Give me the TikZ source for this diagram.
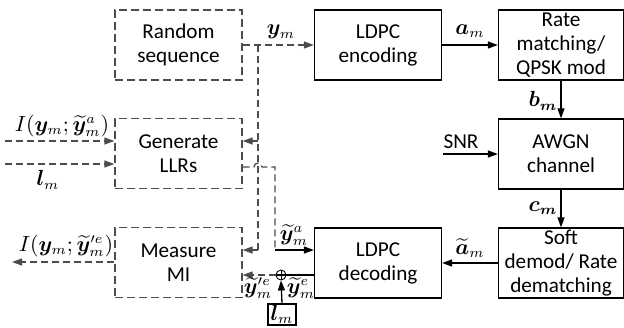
\documentclass[tikz,border=0pt]{standalone}
\usepackage{amsmath}
\usepackage{bm}
\usepackage{fontspec}
\setmainfont{Carlito}
\usetikzlibrary{arrows.meta}
\definecolor{dgray}{gray}{0.3}
% one unit = 0.5pt
\tikzset{
  blk/.style={draw, line width=0.65pt, minimum width=63.5pt, minimum height=35pt,
    align=center, inner sep=0pt},
  dblk/.style={blk, draw=dgray, dash pattern=on 4pt off 2pt},
  arr/.style={line width=0.65pt, -{Triangle[length=5pt,width=3.5pt]}},
  dline/.style={line width=0.65pt, draw=dgray, dash pattern=on 3.5pt off 2pt},
  darr/.style={dline, -{Triangle[length=5pt,width=3.5pt]}, color=dgray},
  lbl/.style={inner sep=0pt},
}
\begin{document}
\begin{tikzpicture}[x=0.5pt, y=-0.5pt, font=\fontsize{10.6}{12}\selectfont]
\useasboundingbox (0,0) rectangle (624,327);

% left column: simulation blocks
\node[dblk] (rand) at (178.5,45)    {Random\\sequence};
\node[dblk] (gen)  at (178.5,153.5) {Generate\\LLRs};
\node[dblk] (meas) at (178.5,262.5) {Measure\\MI};

% middle and right columns: link chain
\node[blk] (enc) at (378,45)  {LDPC\\encoding};
\node[blk] (dec) at (378,263) {LDPC\\decoding};
\node[blk, minimum width=62.5pt] (rate) at (561,45)  {Rate\\matching/\\QPSK mod};
\node[blk, minimum width=62.5pt] (awgn) at (561,154) {AWGN\\channel};
\node[blk, minimum width=62.5pt] (soft) at (561,263) {Soft\\demod/ Rate\\dematching};

% info bits to the encoder, with the split towards the left blocks
\coordinate (ysplit) at (258,45);
\coordinate (ygen)   at (258,141);
\coordinate (ymeas)  at (258,250);
\draw[darr] (rand.east) -- (enc.west);
\node[lbl] at (281,32) {$\bm{y}_m$};
\draw[dline] (ysplit) -- (ymeas);
\draw[darr] (ygen) -- (gen.east |- ygen);
\draw[darr] (ymeas) -- (meas.east |- ymeas);

% inputs of the LLR generator
\coordinate (in1) at (5,141);
\coordinate (in2) at (5,164);
\draw[darr] (in1) -- (gen.west |- in1);
\node[lbl] at (62,126) {$I(\bm{y}_m;\widetilde{\bm{y}}^a_m)$};
\draw[darr] (in2) -- (gen.west |- in2);
\node[lbl] at (48,180) {$\bm{l}_m$};

% a-priori LLRs to the decoder, hopping over the split line
\coordinate (abend)   at (275,167);
\coordinate (acorner) at (275,250);
\draw[dline] (gen.east |- abend) -- (254,167)
  arc[start angle=180, end angle=360, radius=4] -- (abend) -- (acorner);
\draw[arr] (acorner) -- (dec.west |- acorner);
\node[lbl] at (294,235) {$\widetilde{\bm{y}}^a_m$};

% extrinsic LLRs back to the MI measurement
\node[circle, draw, line width=0.45pt, inner sep=0pt, minimum size=5pt] (plus) at (281,275) {};
\draw[line width=0.45pt] (plus.north) -- (plus.south);
\draw[line width=0.65pt] (dec.west |- plus) -- (plus.west);
\draw[darr] (plus.west) -- (meas.east |- plus);
\node[draw, line width=0.65pt, minimum width=14pt, minimum height=10.5pt, inner sep=0pt]
  (lbox) at (282,314.5) {$\bm{l}_m$};
\draw[arr] (lbox.north) -- (plus.south);
\node[lbl] at (258,288) {$\widetilde{\bm{y}}^{\prime e}_m$};
\node[lbl] at (301,288) {$\widetilde{\bm{y}}^e_m$};

% MI output
\coordinate (mout) at (12,262);
\draw[darr] (meas.west |- mout) -- (mout);
\node[lbl] at (66,246) {$I(\bm{y}_m;\widetilde{\bm{y}}^{\prime e}_m)$};

% transmit / channel / receive chain
\draw[arr] (enc.east) -- (rate.west);
\node[lbl] at (470,31) {$\bm{a}_m$};
\draw[arr] (rate.south) -- (awgn.north);
\node[lbl] at (543,101) {$\bm{b_m}$};
\coordinate (snr) at (443,154);
\draw[arr] (snr) -- (awgn.west);
\node[lbl] at (461,142) {SNR};
\draw[arr] (awgn.south) -- (soft.north);
\node[lbl] at (543,208) {$\bm{c_m}$};
\draw[arr] (soft.west) -- (dec.east);
\node[lbl] at (470,248) {$\widetilde{\bm{a}}_m$};
\end{tikzpicture}
\end{document}
